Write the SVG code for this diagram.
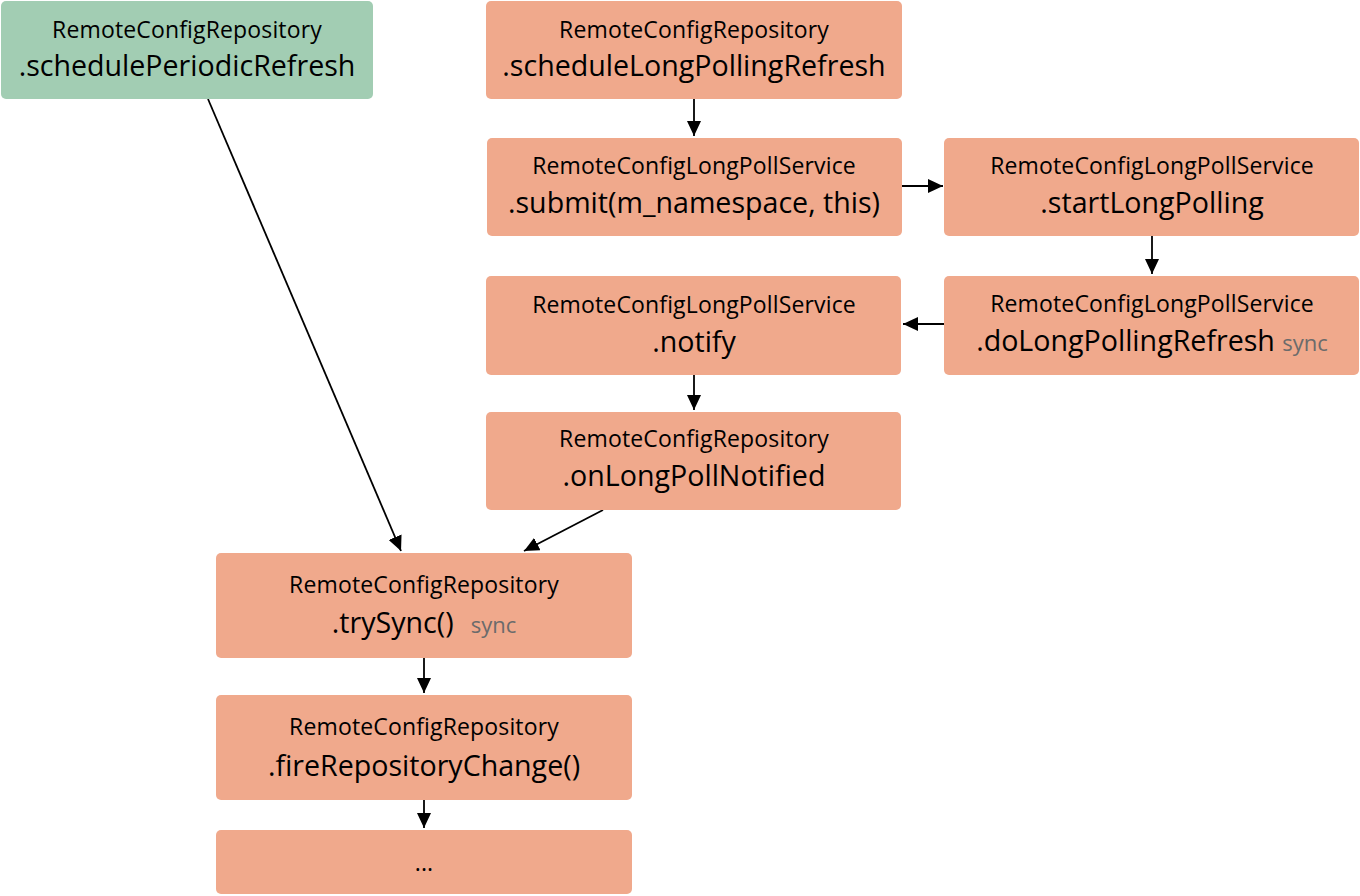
<svg xmlns="http://www.w3.org/2000/svg" width="1360" height="896" viewBox="0 0 1360 896">
<defs>
<marker id="arr" viewBox="0 0 15 14" refX="15" refY="7" markerWidth="15" markerHeight="14" markerUnits="userSpaceOnUse" orient="auto">
<path d="M0,0 L15,7 L0,14 Z" fill="#000"/>
</marker>
<style>
.box{fill:#f0a98c}
.green{fill:#a2cdb3}
.t1{font-family:"Open Sans","Noto Sans",sans-serif;font-size:23px;letter-spacing:0.15px;fill:#000;text-anchor:middle}
.t2{font-family:"Open Sans","Noto Sans",sans-serif;font-size:28.6px;fill:#000;text-anchor:middle}
.s{font-size:22px;fill:#6b6b6b}
.c{stroke:#000;stroke-width:1.8;fill:none;marker-end:url(#arr)}
</style>
</defs>
<rect width="1360" height="896" fill="#fff"/>
<g id="connectors">
<line class="c" x1="208" y1="99" x2="401" y2="551"/>
<line class="c" x1="694" y1="99" x2="694" y2="136"/>
<line class="c" x1="902" y1="186" x2="943" y2="186"/>
<line class="c" x1="1152" y1="236" x2="1152" y2="274"/>
<line class="c" x1="944" y1="324" x2="903" y2="324"/>
<line class="c" x1="694" y1="375" x2="694" y2="410"/>
<line class="c" x1="603" y1="510" x2="524" y2="551"/>
<line class="c" x1="424" y1="658" x2="424" y2="693"/>
<line class="c" x1="424" y1="800" x2="424" y2="828"/>
</g>
<g id="nodeA">
<rect class="green" x="1" y="1" width="372" height="98" rx="5"/>
<text class="t1" x="187" y="38">RemoteConfigRepository</text>
<text class="t2" x="187" y="76">.schedulePeriodicRefresh</text>
</g>
<g id="nodeB">
<rect class="box" x="486" y="1" width="416" height="98" rx="5"/>
<text class="t1" x="694" y="38">RemoteConfigRepository</text>
<text class="t2" x="694" y="76">.scheduleLongPollingRefresh</text>
</g>
<g id="nodeC">
<rect class="box" x="487" y="138" width="415" height="98" rx="5"/>
<text class="t1" x="694" y="174">RemoteConfigLongPollService</text>
<text class="t2" x="694" y="213">.submit(m_namespace, this)</text>
</g>
<g id="nodeD">
<rect class="box" x="944" y="138" width="415" height="98" rx="5"/>
<text class="t1" x="1152" y="174">RemoteConfigLongPollService</text>
<text class="t2" x="1152" y="213">.startLongPolling</text>
</g>
<g id="nodeE">
<rect class="box" x="944" y="276" width="415" height="99" rx="5"/>
<text class="t1" x="1152" y="312">RemoteConfigLongPollService</text>
<text class="t2" x="1152" y="351">.doLongPollingRefresh <tspan class="s">sync</tspan></text>
</g>
<g id="nodeF">
<rect class="box" x="486" y="276" width="415" height="99" rx="5"/>
<text class="t1" x="694" y="313">RemoteConfigLongPollService</text>
<text class="t2" x="694" y="352">.notify</text>
</g>
<g id="nodeG">
<rect class="box" x="486" y="412" width="415" height="98" rx="5"/>
<text class="t1" x="694" y="447">RemoteConfigRepository</text>
<text class="t2" x="694" y="486">.onLongPollNotified</text>
</g>
<g id="nodeH">
<rect class="box" x="216" y="553" width="416" height="105" rx="5"/>
<text class="t1" x="424" y="593">RemoteConfigRepository</text>
<text class="t2" x="424" y="633">.trySync()<tspan class="s" dx="17">sync</tspan></text>
</g>
<g id="nodeI">
<rect class="box" x="216" y="695" width="416" height="105" rx="5"/>
<text class="t1" x="424" y="735">RemoteConfigRepository</text>
<text class="t2" x="424" y="776">.fireRepositoryChange()</text>
</g>
<g id="nodeJ">
<rect class="box" x="216" y="830" width="416" height="64" rx="5"/>
<text class="t1" x="424" y="871">...</text>
</g>
</svg>
